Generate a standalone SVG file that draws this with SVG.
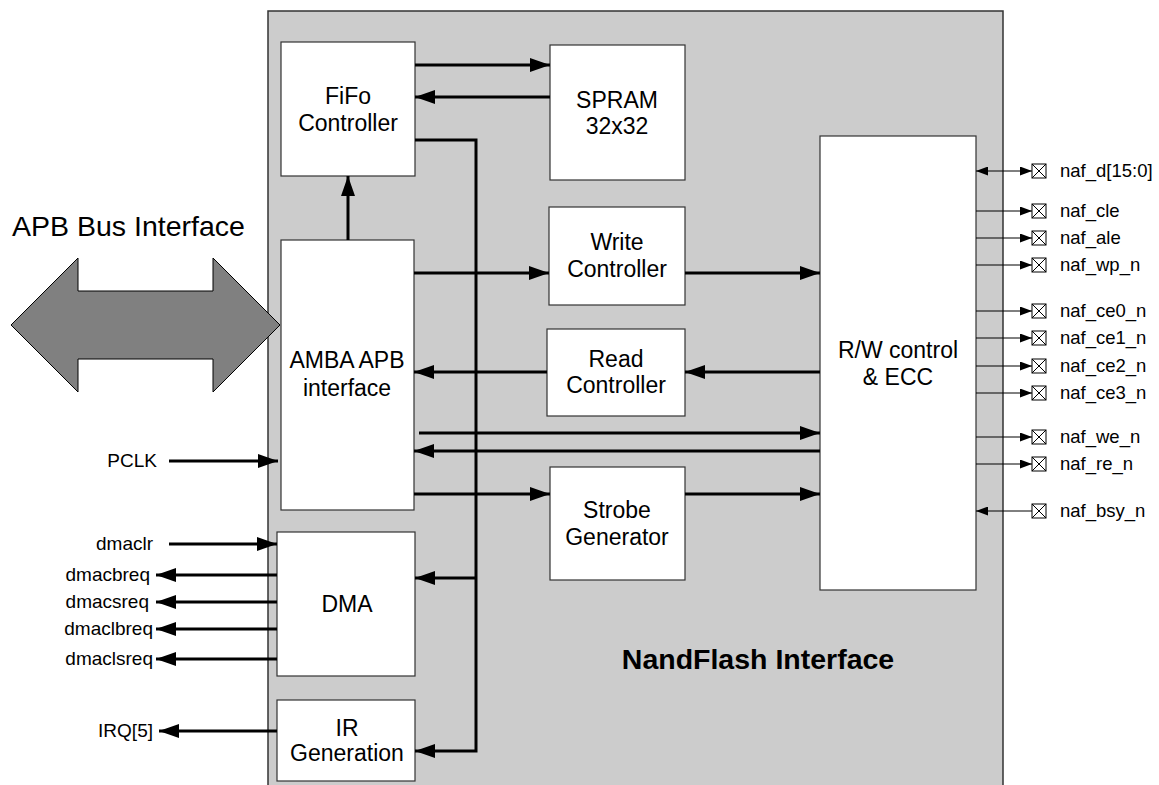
<svg xmlns="http://www.w3.org/2000/svg" width="1159" height="785" viewBox="0 0 1159 785">
<defs>
<style>
.blk{fill:#fff;stroke:#333;stroke-width:1.2}
.lbl{font-family:"Liberation Sans",Arial,sans-serif;font-size:23px;fill:#000;text-anchor:middle}
.sig{font-family:"Liberation Sans",Arial,sans-serif;font-size:18.5px;fill:#000}
.lsig{font-family:"Liberation Sans",Arial,sans-serif;font-size:19px;fill:#000;text-anchor:end}
.w{fill:none;stroke:#000;stroke-width:3}
.t{fill:none;stroke:#000;stroke-width:1}
.pin{fill:#fff;stroke:#000;stroke-width:1}
</style>
<marker id="ah" markerUnits="userSpaceOnUse" markerWidth="20" markerHeight="14" refX="20" refY="7" orient="auto-start-reverse"><path d="M0,0 L20,7 L0,14 z" fill="#000"/></marker>
<marker id="sh" markerUnits="userSpaceOnUse" markerWidth="12" markerHeight="9" refX="12" refY="4.5" orient="auto-start-reverse"><path d="M0,0 L12,4.5 L0,9 z" fill="#000"/></marker>
</defs>
<rect width="1159" height="785" fill="#fff"/>
<g id="nandflash-interface">
<rect x="268" y="11" width="735" height="790" fill="#cccccc" stroke="#333" stroke-width="1.5"/>
<text x="758" y="669" font-family="'Liberation Sans',Arial,sans-serif" font-size="28.5" font-weight="bold" text-anchor="middle">NandFlash Interface</text>
</g>
<g id="apb-bus">
<polygon points="11,325 78,258 78,291 213,291 213,258 280,325 213,392 213,359 78,359 78,392" fill="#808080" stroke="#000" stroke-width="1"/>
<text x="12" y="236" font-family="'Liberation Sans',Arial,sans-serif" font-size="28.5">APB Bus Interface</text>
</g>
<g id="fifo"><rect class="blk" x="281" y="42" width="134" height="134"/><text class="lbl" x="348" y="104">FiFo</text><text class="lbl" x="348" y="131">Controller</text></g>
<g id="spram"><rect class="blk" x="550" y="45" width="135" height="135"/><text class="lbl" x="617" y="108">SPRAM</text><text class="lbl" x="617" y="134">32x32</text></g>
<g id="amba"><rect class="blk" x="281" y="240" width="133" height="270"/><text class="lbl" x="347" y="368">AMBA APB</text><text class="lbl" x="347" y="396">interface</text></g>
<g id="write"><rect class="blk" x="549" y="207" width="136" height="98"/><text class="lbl" x="617" y="250">Write</text><text class="lbl" x="617" y="277">Controller</text></g>
<g id="read"><rect class="blk" x="547" y="329" width="138" height="87"/><text class="lbl" x="616" y="367">Read</text><text class="lbl" x="616" y="393">Controller</text></g>
<g id="strobe"><rect class="blk" x="550" y="467" width="135" height="113"/><text class="lbl" x="617" y="518">Strobe</text><text class="lbl" x="617" y="545">Generator</text></g>
<g id="rw"><rect class="blk" x="820" y="136" width="156" height="454"/><text class="lbl" x="898" y="358">R/W control</text><text class="lbl" x="898" y="385">&amp; ECC</text></g>
<g id="dma"><rect class="blk" x="277" y="532" width="138" height="144"/><text class="lbl" x="347" y="612">DMA</text></g>
<g id="irgen"><rect class="blk" x="277" y="700" width="138" height="81"/><text class="lbl" x="347" y="736">IR</text><text class="lbl" x="347" y="761">Generation</text></g>
<g id="connectors">
<path class="w" d="M415,65 H550" marker-end="url(#ah)"/>
<path class="w" d="M550,97 H415" marker-end="url(#ah)"/>
<path class="w" d="M348,240 V176" marker-end="url(#ah)"/>
<path class="w" d="M415,140 H476 V751 H415" marker-end="url(#ah)"/>
<path class="w" d="M476,578 H415" marker-end="url(#ah)"/>
<path class="w" d="M414,273 H549" marker-end="url(#ah)"/>
<path class="w" d="M685,273 H820" marker-end="url(#ah)"/>
<path class="w" d="M820,372 H685" marker-end="url(#ah)"/>
<path class="w" d="M547,372 H414" marker-end="url(#ah)"/>
<path class="w" d="M419,433 H820" marker-end="url(#ah)"/>
<path class="w" d="M820,451 H414" marker-end="url(#ah)"/>
<path class="w" d="M414,494 H550" marker-end="url(#ah)"/>
<path class="w" d="M685,494 H820" marker-end="url(#ah)"/>
<path class="w" d="M169,461 H278" marker-end="url(#ah)"/>
<path class="w" d="M169,544 H277" marker-end="url(#ah)"/>
<path class="w" d="M277,575 H156" marker-end="url(#ah)"/>
<path class="w" d="M277,602 H156" marker-end="url(#ah)"/>
<path class="w" d="M277,629 H156" marker-end="url(#ah)"/>
<path class="w" d="M277,659 H156" marker-end="url(#ah)"/>
<path class="w" d="M277,731 H159" marker-end="url(#ah)"/>
<path class="t" d="M976,171 H1032" marker-start="url(#sh)" marker-end="url(#sh)"/>
<path class="t" d="M976,211 H1032" marker-end="url(#sh)"/>
<path class="t" d="M976,238 H1032" marker-end="url(#sh)"/>
<path class="t" d="M976,265 H1032" marker-end="url(#sh)"/>
<path class="t" d="M976,311 H1032" marker-end="url(#sh)"/>
<path class="t" d="M976,338 H1032" marker-end="url(#sh)"/>
<path class="t" d="M976,366 H1032" marker-end="url(#sh)"/>
<path class="t" d="M976,393 H1032" marker-end="url(#sh)"/>
<path class="t" d="M976,437 H1032" marker-end="url(#sh)"/>
<path class="t" d="M976,464 H1032" marker-end="url(#sh)"/>
<path class="t" d="M1032,511 H976" marker-end="url(#sh)"/>
</g>
<g id="signals-left">
<text class="lsig" x="157" y="467">PCLK</text>
<text class="lsig" x="153" y="550">dmaclr</text>
<text class="lsig" x="150" y="581">dmacbreq</text>
<text class="lsig" x="149" y="608">dmacsreq</text>
<text class="lsig" x="153" y="635">dmaclbreq</text>
<text class="lsig" x="153" y="665">dmaclsreq</text>
<text class="lsig" x="153" y="737">IRQ[5]</text>
</g>
<g id="pins">
<g id="pin-naf_d"><rect class="pin" x="1032" y="164" width="14" height="14"/><path class="t" d="M1032,164 L1046,178 M1046,164 L1032,178"/><text class="sig" x="1060" y="177">naf_d[15:0]</text></g>
<g id="pin-naf_cle"><rect class="pin" x="1032" y="204" width="14" height="14"/><path class="t" d="M1032,204 L1046,218 M1046,204 L1032,218"/><text class="sig" x="1060" y="217">naf_cle</text></g>
<g id="pin-naf_ale"><rect class="pin" x="1032" y="231" width="14" height="14"/><path class="t" d="M1032,231 L1046,245 M1046,231 L1032,245"/><text class="sig" x="1060" y="244">naf_ale</text></g>
<g id="pin-naf_wp_n"><rect class="pin" x="1032" y="258" width="14" height="14"/><path class="t" d="M1032,258 L1046,272 M1046,258 L1032,272"/><text class="sig" x="1060" y="271">naf_wp_n</text></g>
<g id="pin-naf_ce0_n"><rect class="pin" x="1032" y="304" width="14" height="14"/><path class="t" d="M1032,304 L1046,318 M1046,304 L1032,318"/><text class="sig" x="1060" y="317">naf_ce0_n</text></g>
<g id="pin-naf_ce1_n"><rect class="pin" x="1032" y="331" width="14" height="14"/><path class="t" d="M1032,331 L1046,345 M1046,331 L1032,345"/><text class="sig" x="1060" y="344">naf_ce1_n</text></g>
<g id="pin-naf_ce2_n"><rect class="pin" x="1032" y="359" width="14" height="14"/><path class="t" d="M1032,359 L1046,373 M1046,359 L1032,373"/><text class="sig" x="1060" y="372">naf_ce2_n</text></g>
<g id="pin-naf_ce3_n"><rect class="pin" x="1032" y="386" width="14" height="14"/><path class="t" d="M1032,386 L1046,400 M1046,386 L1032,400"/><text class="sig" x="1060" y="399">naf_ce3_n</text></g>
<g id="pin-naf_we_n"><rect class="pin" x="1032" y="430" width="14" height="14"/><path class="t" d="M1032,430 L1046,444 M1046,430 L1032,444"/><text class="sig" x="1060" y="443">naf_we_n</text></g>
<g id="pin-naf_re_n"><rect class="pin" x="1032" y="457" width="14" height="14"/><path class="t" d="M1032,457 L1046,471 M1046,457 L1032,471"/><text class="sig" x="1060" y="470">naf_re_n</text></g>
<g id="pin-naf_bsy_n"><rect class="pin" x="1032" y="504" width="14" height="14"/><path class="t" d="M1032,504 L1046,518 M1046,504 L1032,518"/><text class="sig" x="1060" y="517">naf_bsy_n</text></g>
</g>
</svg>
